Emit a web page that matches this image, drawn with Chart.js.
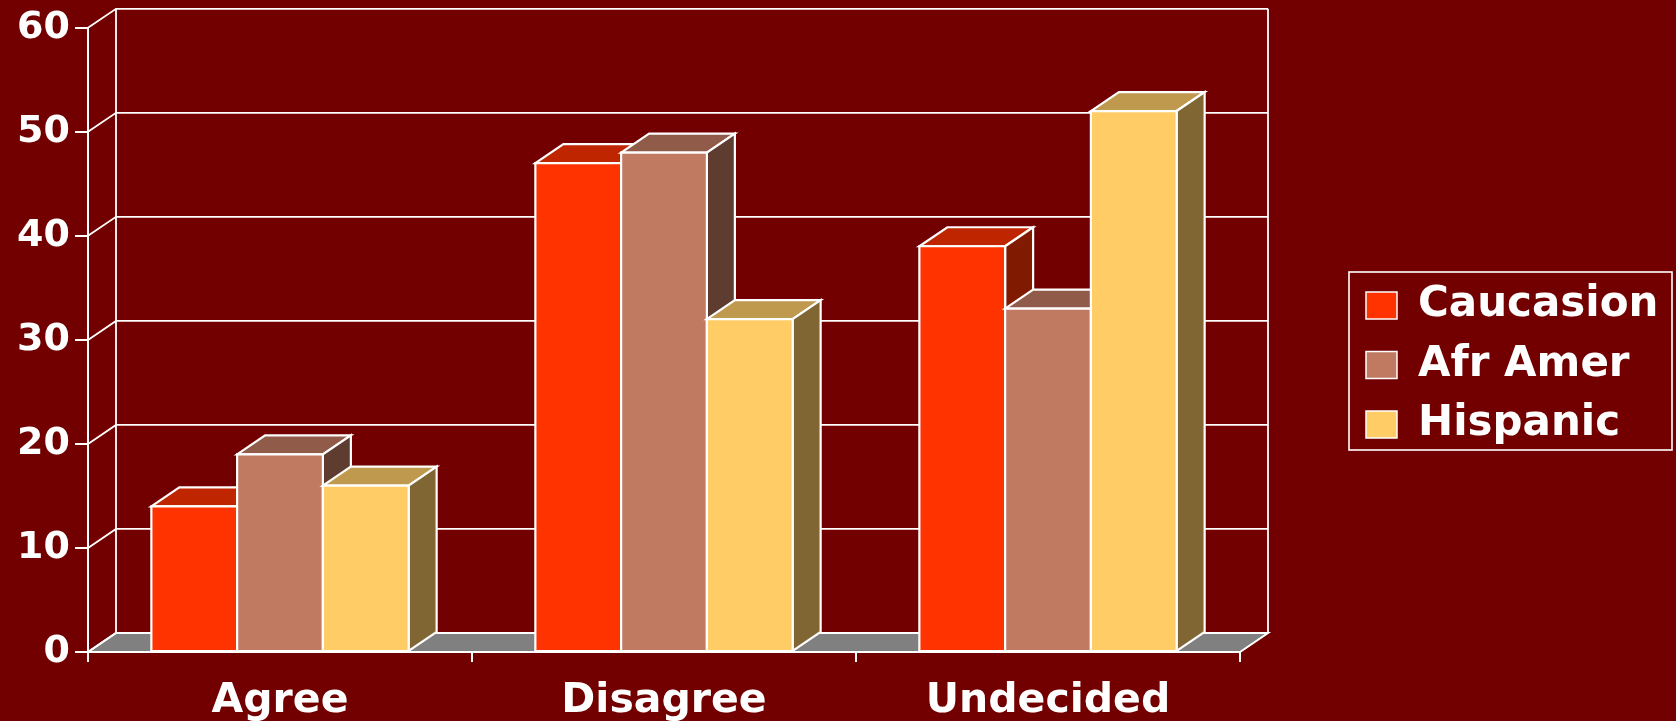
<!DOCTYPE html>
<html>
<head>
<meta charset="utf-8">
<title>Answers by group</title>
<script src="https://cdn.jsdelivr.net/npm/chart.js@4.4.1/dist/chart.umd.min.js"></script>
<style>
  html, body { margin: 0; padding: 0; background: #720000; }
  #wrap { width: 1676px; height: 721px; }
</style>
</head>
<body>
<div id="wrap"><canvas id="chart" width="1676" height="721"></canvas></div>
<script>
'use strict';

// answers along the bottom, one bar per group in each
const answers = ['Agree', 'Disagree', 'Undecided'];
const groups = ['Caucasion', 'Afr Amer', 'Hispanic'];

// percent of each group
const caucasion = [14, 47, 39];
const afrAmer = [19, 48, 33];
const hispanic = [16, 32, 52];

const yTicks = [0, 10, 20, 30, 40, 50, 60];

// front, top, side colour for each group
const faceColors = [
  ['#ff3300', '#bf2600', '#801a00'],
  ['#c07a62', '#915b4a', '#5f3c30'],
  ['#ffcc66', '#bf994d', '#806633']
];

// how far the boxes go "back"
const depthX = 28;
const depthY = 19;

function face (ctx, pts, fill) {
  ctx.beginPath();
  ctx.moveTo(pts[0][0], pts[0][1]);
  for (let i = 1; i < pts.length; i++) {
    ctx.lineTo(pts[i][0], pts[i][1]);
  }
  ctx.closePath();
  ctx.fillStyle = fill;
  ctx.fill();
  ctx.stroke();
}

const box3d = {
  id: 'box3d',
  afterLayout(chart) {
    // legend gets its own spot right of the plot
    let lg = chart.legend;
    lg.left = 1348.5;
    lg.top = 267;
    lg.width = 326;
    lg.height = 220;
    lg.right = lg.left + lg.width;
    lg.bottom = lg.top + lg.height;
  },
  beforeDatasetsDraw(chart) {
    let ctx = chart.ctx;
    let {left, right, top, bottom} = chart.chartArea;
    let yScale = chart.scales.y;
    ctx.save();
    ctx.strokeStyle = '#ffffff';
    ctx.lineWidth = 2;

    // floor
    face(ctx, [[left, bottom], [right, bottom], [right + depthX, bottom - depthY], [left + depthX, bottom - depthY]], '#808080');

    // side wall + back wall lines
    ctx.lineWidth = 1.8;
    ctx.beginPath();
    yTicks.forEach(function (v) {
      let py = yScale.getPixelForValue(v);
      ctx.moveTo(left, py);
      ctx.lineTo(left + depthX, py - depthY);
      ctx.lineTo(right + depthX, py - depthY);
    });
    ctx.moveTo(left + depthX, top - depthY);
    ctx.lineTo(left + depthX, bottom - depthY);
    ctx.moveTo(right + depthX, top - depthY);
    ctx.lineTo(right + depthX, bottom - depthY);
    ctx.stroke();
    ctx.restore();
  },
  afterDatasetsDraw(chart) {
    let ctx = chart.ctx;
    ctx.save();
    ctx.strokeStyle = '#ffffff';
    ctx.lineWidth = 2.2;
    ctx.lineJoin = 'miter';
    for (let i = 0; i < chart.data.datasets.length; i++) {
      let cols = faceColors[i];
      chart.getDatasetMeta(i).data.forEach(function (bar) {
        let p = bar.getProps(['x', 'y', 'base', 'width'], true);
        let l = p.x - p.width / 2;
        let r = p.x + p.width / 2;
        // top
        face(ctx, [[l, p.y], [r, p.y], [r + depthX, p.y - depthY], [l + depthX, p.y - depthY]], cols[1]);
        // side
        face(ctx, [[r, p.y], [r + depthX, p.y - depthY], [r + depthX, p.base - depthY], [r, p.base]], cols[2]);
        // front
        face(ctx, [[l, p.y], [r, p.y], [r, p.base], [l, p.base]], cols[0]);
      });
    }
    ctx.restore();
  },
  afterDraw(chart) {
    // frame round the legend
    let lg = chart.legend;
    let ctx = chart.ctx;
    ctx.save();
    ctx.strokeStyle = '#ffffff';
    ctx.lineWidth = 1.6;
    ctx.strokeRect(lg.left + 0.5, lg.top + 5, 323, 178);
    ctx.restore();
  }
};

let seriesValues = [caucasion, afrAmer, hispanic];
let datasets = [];
for (let i = 0; i < groups.length; i++) {
  datasets.push({
    label: groups[i],
    data: seriesValues[i],
    backgroundColor: faceColors[i][0],
    borderColor: '#ffffff',
    borderWidth: 1.5,
    borderSkipped: false,
    barPercentage: 1,
    categoryPercentage: 0.67
  });
}

let myChart = new Chart(document.getElementById('chart'), {
  type: 'bar',
  data: {
    labels: answers,
    datasets: datasets
  },
  options: {
    responsive: false,
    animation: false,
    devicePixelRatio: 1,
    layout: {
      padding: { top: 26, left: 0, right: 435, bottom: 0 }
    },
    scales: {
      x: {
        grid: {
          offset: true,
          drawOnChartArea: false,
          color: '#ffffff',
          lineWidth: 2,
          tickLength: 10
        },
        border: { color: '#ffffff', width: 2 },
        ticks: {
          color: '#ffffff',
          padding: 15,
          font: { family: 'DejaVu Sans', weight: 'bold', size: 41 }
        },
        afterFit: function (scale) { scale.height = 69; }
      },
      y: {
        min: 0,
        max: 60,
        afterBuildTicks: function (scale) {
          scale.ticks = yTicks.map(function (v) { return { value: v }; });
        },
        grid: {
          drawOnChartArea: false,
          color: '#ffffff',
          lineWidth: 2,
          tickLength: 13
        },
        border: { color: '#ffffff', width: 2 },
        ticks: {
          color: '#ffffff',
          padding: 5,
          font: { family: 'DejaVu Sans', weight: 'bold', size: 38 }
        },
        afterFit: function (scale) { scale.width = 88; }
      }
    },
    plugins: {
      tooltip: { enabled: false },
      legend: {
        position: 'right',
        align: 'start',
        maxWidth: 1,
        labels: {
          color: '#ffffff',
          boxWidth: 31,
          boxHeight: 27,
          padding: 17.5,
          font: { family: 'DejaVu Sans', weight: 'bold', size: 42 }
        }
      }
    }
  },
  plugins: [box3d]
});
</script>
</body>
</html>
